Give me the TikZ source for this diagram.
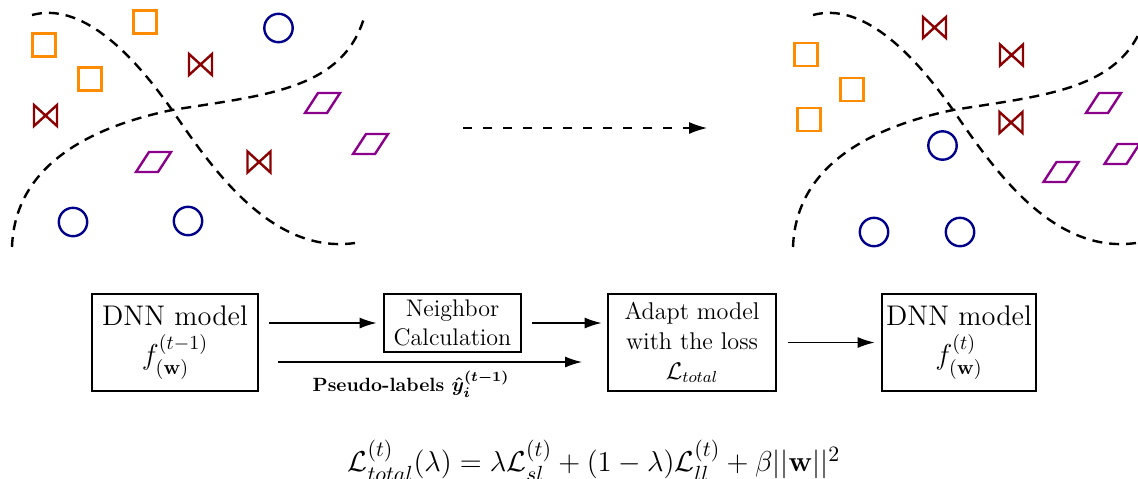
\documentclass[tikz,border=0pt]{standalone}
\usepackage{amsmath,bm}
\usetikzlibrary{arrows.meta}
\definecolor{sqc}{RGB}{255,140,0}
\definecolor{bwc}{RGB}{139,0,0}
\definecolor{cic}{RGB}{0,0,139}
\definecolor{pgc}{RGB}{139,0,139}
\newcommand{\mysq}[2]{\draw[shp,draw=sqc,shift={(#1,#2)}] (-11.5,-11.5) rectangle (11.5,11.5);}
\newcommand{\mybow}[2]{\draw[shp,draw=bwc,shift={(#1,#2)}] (-11.5,-10.5) -- (11.5,10.5) -- (11.5,-10.5) -- (-11.5,10.5) -- cycle;}
\newcommand{\mycirc}[2]{\draw[shp,draw=cic] (#1,#2) circle[radius=7.1pt];}
\newcommand{\mypgram}[2]{\draw[shp,draw=pgc,shift={(#1,#2)}] (-17.5,10) -- (4.5,10) -- (17.5,-10) -- (-4.5,-10) -- cycle;}
\begin{document}
\begin{tikzpicture}[x=0.5pt,y=-0.5pt,
  shp/.style={line width=1.2pt, line join=miter},
  dsh/.style={dash pattern=on 5pt off 3.5pt, line width=1.2pt},
  box/.style={draw, line width=1.4pt, align=center, inner sep=1pt},
  arr/.style={line width=0.65pt, -{Latex[length=8.5pt,width=5.5pt]}},
  darr/.style={line width=0.6pt, dash pattern=on 4.5pt off 5.5pt, -{Latex[length=9pt,width=6pt]}}]
\clip (0,0) rectangle (1138,478);
\fill[white] (0,0) rectangle (1138,478);
% left panel curves
\draw[dsh] (32,15) .. controls (80,2) and (130,50) .. (172,110) .. controls (210,165) and (270,255) .. (355,243);
\draw[dsh] (12,247) .. controls (15,160) and (100,125) .. (172,110) .. controls (265,95) and (342,90) .. (364,18);
% right panel curves
\begin{scope}[xshift=781*0.5pt]
\draw[dsh] (32,15) .. controls (80,2) and (130,50) .. (172,110) .. controls (210,165) and (270,255) .. (355,243);
\draw[dsh] (12,247) .. controls (15,160) and (100,125) .. (172,110) .. controls (265,95) and (342,90) .. (364,18);
\end{scope}
% left panel shapes
\mysq{44}{45}\mysq{145}{22}\mysq{90}{79}
\mycirc{278.5}{28}\mycirc{73}{222}\mycirc{188}{221}
\mybow{200.5}{64.5}\mybow{45.5}{115.5}\mybow{259}{162}
\mypgram{153.5}{162}\mypgram{322.5}{103}\mypgram{370.5}{144}
% right panel shapes
\mysq{806}{54.5}\mysq{852}{89.5}\mysq{809}{119.5}
\mybow{934.5}{27.5}\mybow{1011.5}{55}\mybow{1011}{122.5}
\mycirc{942.5}{145.5}\mycirc{874}{232}\mycirc{960}{232}
\mypgram{1103.5}{103}\mypgram{1061}{172}\mypgram{1122}{154}
% top dashed arrow
\coordinate (da1) at (463,128);
\coordinate (da2) at (707,128);
\draw[darr] (da1) -- (da2);
% boxes
\node[box, minimum width=83pt, minimum height=48.5pt, font=\fontsize{14.2}{17.5}\selectfont] (b1) at (175,342.5) {DNN model\\[2pt] $f^{(t-1)}_{(\mathbf{w})}$};
\node[box, minimum width=68.5pt, minimum height=29pt, font=\fontsize{12}{14.5}\selectfont] (b2) at (452.5,323) {Neighbor\\Calculation};
\node[box, minimum width=84pt, minimum height=48.5pt, font=\fontsize{12.1}{15}\selectfont] (b3) at (692,342.5) {Adapt model\\with the loss\\$\mathcal{L}_{total}$};
\node[box, minimum width=77pt, minimum height=48.5pt, font=\fontsize{14.2}{17.5}\selectfont] (b4) at (959,342.5) {DNN model\\[2pt] $f^{(t)}_{(\mathbf{w})}$};
% connectors
\draw[arr, shorten <=5pt, shorten >=3pt] (b1.east |- b2.west) -- (b2.west);
\draw[arr, shorten <=5pt, shorten >=2.5pt] (b2.east) -- (b2.east -| b3.west);
\draw[arr, shorten <=5.5pt, shorten >=3pt] (b3.east) -- (b4.west);
\coordinate (p1) at (278,362);
\coordinate (p2) at (582,362);
\draw[arr] (p1) -- (p2);
\node[font=\bfseries\fontsize{9.6}{12}\selectfont, inner sep=0pt] (pl) at (411,384) {Pseudo-labels $\bm{\hat{y}_i^{(t-1)}}$};
% formula
\node[font=\fontsize{15}{18}\selectfont, inner sep=0pt] (fm) at (594,461) {$\mathcal{L}^{(t)}_{total}(\lambda) = \lambda\mathcal{L}^{(t)}_{sl} + (1-\lambda)\mathcal{L}^{(t)}_{ll} + \beta||\mathbf{w}||^2$};
\end{tikzpicture}
\end{document}
